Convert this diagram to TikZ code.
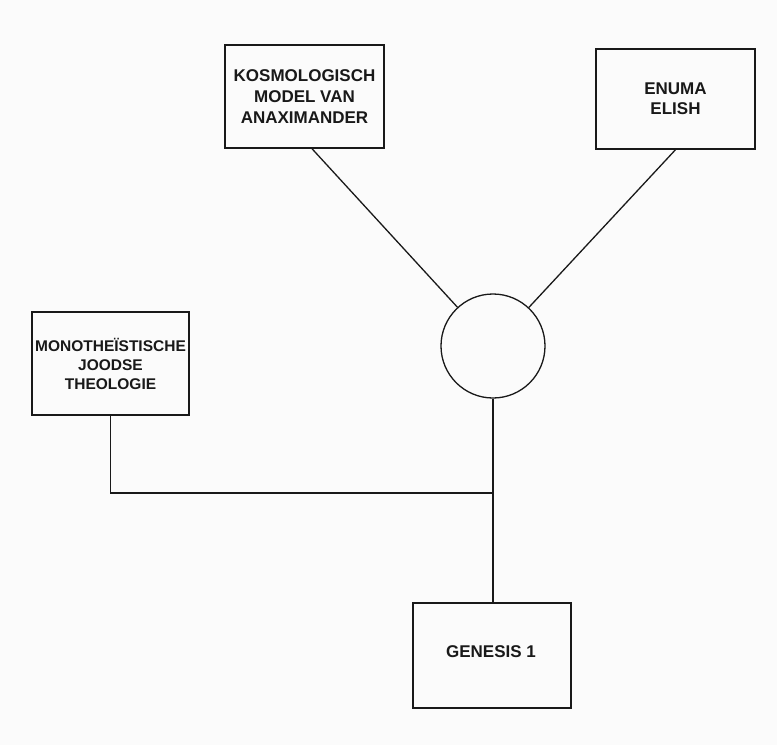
\documentclass[tikz,border=0pt]{standalone}
\usepackage{fontspec}
\setmainfont{Liberation Sans}
\definecolor{bgc}{RGB}{251,251,251}
\definecolor{ink}{RGB}{25,25,25}
\begin{document}
\begin{tikzpicture}[x=1pt,y=1pt,
  box/.style={draw=ink, line width=1.4pt, inner sep=0pt, align=center, text=ink,
    font=\fontsize{17}{21}\selectfont\bfseries},
  conn/.style={draw=ink, line width=1.3pt}]
\fill[bgc] (0,0) rectangle (777,-745);
\useasboundingbox (0,0) rectangle (777,-745);
\node[box, minimum width=159pt, minimum height=103pt] (b1) at (304.5,-96.5)
  {KOSMOLOGISCH\\MODEL VAN\\ANAXIMANDER};
\node[box, minimum width=159pt, minimum height=100pt, font=\fontsize{17}{20}\selectfont\bfseries] (b2) at (675.5,-99)
  {ENUMA\\ELISH};
\node[box, minimum width=157pt, minimum height=103pt, font=\fontsize{15.5}{19}\selectfont\bfseries] (b3) at (110.5,-363.5)
  {MONOTHE\"ISTISCHE\\JOODSE\\THEOLOGIE};
\node[box, minimum width=158pt, minimum height=105pt] (b4) at (492,-655.5) {};
\node[text=ink, font=\fontsize{17}{21}\selectfont\bfseries] (t4) at (491,-652) {GENESIS 1};
\node[draw=ink, line width=1.3pt, circle, minimum size=104pt, inner sep=0pt] (c) at (493,-346) {};
\coordinate (j) at (493,-493);
\draw[conn] ([xshift=7.5pt]b1.south) -- (c);
\draw[conn] (b2.south) -- (c);
\draw[conn] (c.south) -- (c.south |- b4.north);
\draw[conn] (b3.south) |- (j);
\end{tikzpicture}
\end{document}
